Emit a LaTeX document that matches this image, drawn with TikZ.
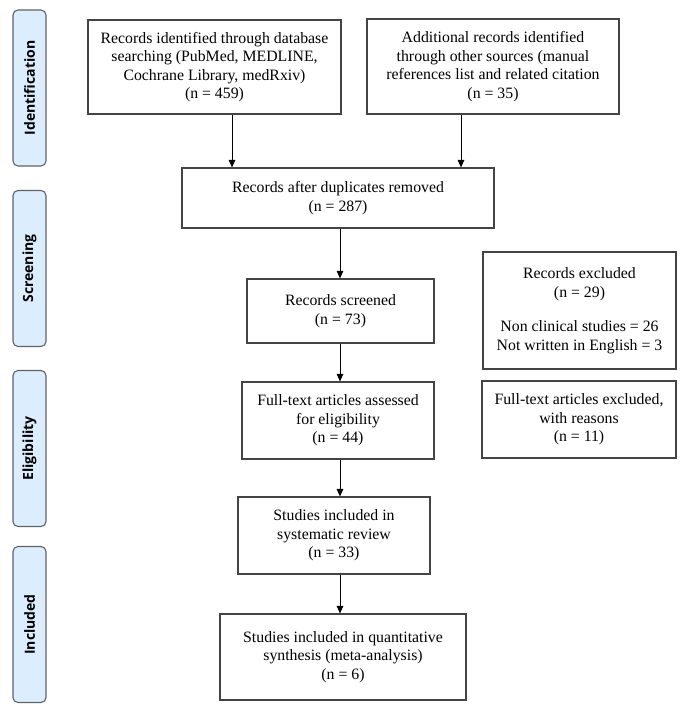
\documentclass[tikz,border=0pt]{standalone}
\usepackage{fontspec}
\setmainfont{Liberation Serif}
\newfontfamily\sidefont{Open Sans}
\usetikzlibrary{arrows.meta}
\definecolor{sidefill}{HTML}{DCEEFD}
\definecolor{sideline}{HTML}{5F6368}
\definecolor{boxline}{HTML}{444444}
\begin{document}
\begin{tikzpicture}[x=1pt,y=1pt,
  flowbox/.style={draw=boxline,line width=1.1pt,fill=white,inner sep=0pt,align=center,
    font=\fontsize{15.8}{18.5}\selectfont},
  sidebox/.style={draw=sideline,line width=1.1pt,fill=sidefill,rounded corners=5pt,
    minimum width=156pt,minimum height=33pt,inner sep=0pt,rotate=90,
    font=\sidefont\bfseries\fontsize{14}{16}\selectfont},
  arr/.style={draw=black,line width=1pt,-{Triangle[width=6.5pt,length=7.5pt]}}]
\useasboundingbox (0,0) rectangle (687,-714);
% side labels
\node[sidebox] (sid) at (29.5,-88) {Identification};
\node[sidebox] (sscr) at (29.5,-268.5) {Screening};
\node[sidebox] (selg) at (29.5,-448.5) {Eligibility};
\node[sidebox] (sinc) at (29.5,-624.5) {Included};
% main boxes
\node[flowbox,minimum width=253pt,minimum height=94pt] (b1) at (214.5,-67)
  {Records identified through database\\searching (PubMed, MEDLINE,\\Cochrane Library, medRxiv)\\(n = 459)};
\node[flowbox,minimum width=252pt,minimum height=95pt] (b2) at (493,-66.5)
  {Additional records identified\\through other sources (manual\\references list and related citation\\(n = 35)};
\node[flowbox,minimum width=312pt,minimum height=60pt] (b3) at (338,-198)
  {Records after duplicates removed\\(n = 287)};
\node[flowbox,minimum width=187pt,minimum height=64pt] (b4) at (340.5,-311)
  {Records screened\\(n = 73)};
\node[flowbox,minimum width=192pt,minimum height=77pt] (b5) at (338,-420.5)
  {Full-text articles assessed\\for eligibility\\(n = 44)};
\node[flowbox,minimum width=192pt,minimum height=77pt] (b6) at (334,-535.5)
  {Studies included in\\systematic review\\(n = 33)};
\node[flowbox,minimum width=246pt,minimum height=86pt] (b7) at (343,-657)
  {Studies included in quantitative\\synthesis (meta-analysis)\\(n = 6)};
\node[flowbox,minimum width=193pt,minimum height=117pt] (e1) at (579.5,-310.5)
  {Records excluded\\(n = 29)\\[16pt]Non clinical studies = 26\\Not written in English = 3};
\node[flowbox,minimum width=194pt,minimum height=77pt] (e2) at (579,-419.5)
  {Full-text articles excluded,\\with reasons\\(n = 11)};
% arrow columns
\coordinate (cl) at (232,0);
\coordinate (cr) at (461,0);
\coordinate (cm) at (340,0);
\draw[arr] (b1.south -| cl) -- (b3.north -| cl);
\draw[arr] (b2.south -| cr) -- (b3.north -| cr);
\draw[arr] (b3.south -| cm) -- (b4.north -| cm);
\draw[arr] (b4.south -| cm) -- (b5.north -| cm);
\draw[arr] (b5.south -| cm) -- (b6.north -| cm);
\draw[arr] (b6.south -| cm) -- (b7.north -| cm);
\end{tikzpicture}
\end{document}
